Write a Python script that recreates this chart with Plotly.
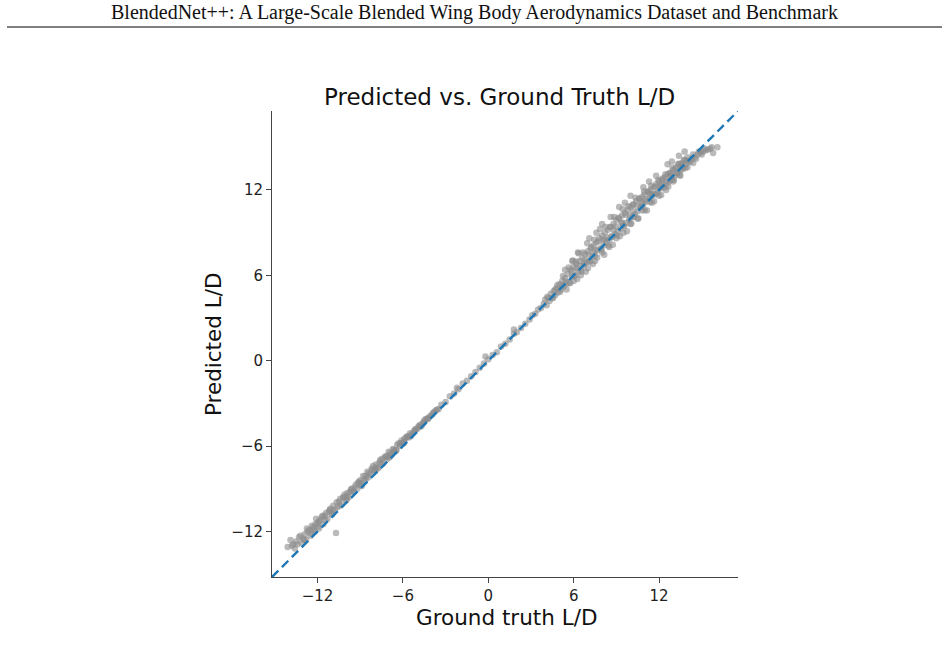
import plotly.graph_objects as go

# ---- data ----
gt_low = [-14.1,-13.9,-13.7,-13.6,-13.3,-13.1,-12.9,-12.8,-12.6,-12.5,-12.3,-12.2,-12.0,-11.9,-11.8,-11.6,-11.5,-11.3,-11.2,-11.0,
          -10.9,-10.7,-10.6,-10.5,-10.3,-10.2,-10.0,-9.9,-9.8,-9.6,-9.5,-9.3,-9.2,-9.0,-8.9,-8.8,-8.6,-8.5,-8.3,-8.2,
          -8.0,-7.9,-7.7,-7.6,-7.4,-7.3,-7.1,-7.0,-6.8,-6.7,-6.5,-6.4,-6.2,-6.1,-5.9,-5.8,-5.6,-5.5,-5.3,-5.1,
          -5.0,-4.8,-4.6,-4.5,-4.3,-4.1,-3.9,-3.7,-3.5,-3.3,
          -13.5,-12.7,-12.4,-11.7,-11.4,-11.1,-10.8,-10.4,-10.1,-9.7,-9.4,-9.1,-8.7,-8.4,-8.1,-7.8,-7.5,-7.2,-6.9,-6.6,
          -6.3,-6.0,-5.7,-5.4,-5.2,-4.9,-4.7,-4.4,-4.2,-3.8,-12.1,-11.9,-10.9,-9.9,-8.9,-7.9,-6.9,-5.9,-13.0,-12.3]
pred_low = [-13.1,-12.6,-12.9,-13.2,-12.4,-12.8,-12.2,-12.6,-11.9,-12.3,-11.7,-12.0,-11.4,-11.8,-11.2,-11.5,-10.9,-11.1,-10.6,-10.8,
            -10.2,-12.1,-10.3,-9.9,-10.1,-9.6,-9.8,-9.3,-9.6,-9.0,-9.2,-8.7,-9.0,-8.4,-8.8,-8.1,-8.3,-7.8,-8.0,-7.6,
            -7.7,-7.3,-7.5,-7.0,-7.2,-6.8,-6.9,-6.4,-6.6,-6.2,-6.3,-5.9,-6.0,-5.6,-5.7,-5.4,-5.4,-5.1,-5.1,-4.8,
            -4.8,-4.5,-4.4,-4.2,-4.1,-3.9,-3.7,-3.5,-3.4,-3.1,
            -12.7,-12.0,-11.6,-11.0,-10.7,-10.4,-10.5,-9.7,-9.4,-9.2,-8.9,-8.5,-8.4,-7.9,-7.4,-7.6,-6.9,-6.7,-6.5,-6.4,
            -5.8,-5.8,-5.3,-5.2,-4.9,-4.6,-4.6,-4.1,-4.0,-3.6,-11.1,-11.3,-10.6,-9.5,-8.6,-7.5,-6.7,-5.5,-12.5,-11.9]

gt_low2 = [-13.8,-13.4,-13.2,-12.95,-12.75,-12.45,-12.15,-11.95,-11.65,-11.45,-11.15,-10.95,-10.65,-10.45,-10.15,-9.95,-9.65,-9.45,-9.15,-8.95,
           -8.65,-8.45,-8.15,-7.95,-7.65,-7.45,-7.15,-6.95,-6.65,-6.45,-6.15,-5.95,-5.65,-5.45,-5.15,-4.85,-4.55,-4.25,-3.95,-3.6]
pred_low2 = [-13.0,-12.9,-12.3,-12.6,-11.8,-12.15,-11.5,-11.65,-10.9,-11.2,-10.5,-10.75,-9.95,-10.2,-9.6,-9.75,-9.05,-9.2,-8.6,-8.75,
             -8.1,-8.2,-7.7,-7.75,-7.15,-7.25,-6.75,-6.8,-6.25,-6.3,-5.8,-5.8,-5.35,-5.3,-4.9,-4.65,-4.35,-4.1,-3.8,-3.45]

gt_mid = [-3.0,-2.7,-2.4,-2.1,-1.8,-1.5,-1.2,-0.9,-0.6,-0.3,0.0,0.3,0.6,0.9,1.2,1.5,1.8,2.0,2.3,2.6,2.9,3.1,3.3,3.5,3.7,-2.2,1.8,-0.2]
pred_mid = [-2.9,-2.5,-2.3,-2.0,-1.6,-1.4,-1.1,-0.8,-0.5,-0.2,0.1,0.4,0.6,1.0,1.2,1.5,1.9,2.0,2.3,2.6,2.9,3.2,3.3,3.6,3.7,-1.9,2.2,0.3]

gt_high = [3.9,4.0,4.1,4.2,4.3,4.4,4.5,4.6,4.7,4.8,4.9,5.0,5.1,5.2,5.3,5.4,5.5,5.6,5.7,5.8,5.9,6.0,6.1,6.2,6.3,6.4,6.5,6.6,6.7,6.8,
           6.9,7.0,7.1,7.2,7.3,7.4,7.5,7.6,7.7,7.8,7.9,8.0,8.1,8.2,8.3,8.4,8.5,8.6,8.7,8.8,8.9,9.0,9.1,9.2,9.3,9.4,9.5,9.6,9.7,9.8,
           9.9,10.0,10.1,10.2,10.3,10.4,10.5,10.6,10.7,10.8,10.9,11.0,11.1,11.2,11.3,11.4,11.5,11.6,11.7,11.8,11.9,12.0,12.1,12.2,12.3,12.4,12.5,12.6,12.7,12.8,
           12.9,13.0,13.1,13.2,13.3,13.4,13.5,13.6,13.7,13.8,13.9,14.0,14.1,14.3,14.5,14.7,14.9,15.1,15.3,15.6,16.1,15.8,
           5.5,6.0,6.5,7.0,7.5,8.0,8.5,9.0,9.5,10.0,10.5,11.0,11.5,12.0,12.5,13.0,13.5,14.0,14.4,
           5.4,6.3,7.1,8.0,9.2,10.0,10.9,11.8,12.6,13.4,5.9,7.6,8.6,9.6,11.3,12.9,13.8,
           6.2,6.8,7.4,8.2,8.8,9.4,10.2,10.8,11.4,12.2,12.8,13.6,5.2,4.7]
pred_high = [4.0,4.3,3.9,4.4,4.2,4.7,4.4,4.9,4.6,5.1,4.8,5.4,5.0,5.6,5.2,5.8,5.4,6.1,5.5,6.4,5.9,6.6,6.0,6.8,6.3,7.0,6.4,7.2,6.7,7.5,
             6.9,7.7,7.0,7.9,7.3,8.1,7.4,8.3,7.8,8.6,7.9,8.8,8.1,9.0,8.3,9.2,8.5,9.4,8.7,9.6,8.9,9.9,9.1,10.0,9.3,10.2,9.5,10.4,9.7,10.6,
             9.9,10.8,10.1,11.0,10.3,11.2,10.5,11.4,10.8,11.5,11.0,11.7,11.2,11.9,11.4,12.0,11.6,12.2,11.7,12.4,11.9,12.6,12.1,12.7,12.3,12.9,12.4,13.1,12.6,13.2,
             12.8,13.4,13.0,13.6,13.2,13.8,13.4,13.9,13.6,14.1,13.8,14.3,14.0,14.2,14.3,14.5,14.6,14.7,14.8,14.9,15.0,14.6,
             5.0,5.6,6.0,6.5,7.0,7.6,8.0,8.6,9.0,9.6,10.0,10.6,11.1,11.6,12.0,12.6,13.0,13.6,13.9,
             6.4,7.6,8.6,9.6,10.8,11.6,12.2,13.0,13.8,14.4,7.0,9.0,10.1,11.1,12.6,14.0,14.7,
             6.5,7.1,7.6,8.5,9.2,9.7,10.5,11.1,11.7,12.4,13.0,13.7,5.3,5.0]

gt_high2 = [4.15,4.55,4.85,5.05,5.25,5.45,5.65,5.75,5.85,5.95,6.05,6.15,6.25,6.35,6.45,6.55,6.65,6.75,6.85,6.95,
            7.05,7.15,7.25,7.35,7.45,7.55,7.65,7.75,7.85,7.95,8.05,8.15,8.25,8.35,8.45,8.55,8.65,8.75,8.85,8.95,
            9.05,9.15,9.25,9.35,9.45,9.55,9.65,9.75,9.85,9.95,10.05,10.15,10.25,10.35,10.45,10.55,10.65,10.75,10.85,10.95,
            11.05,11.15,11.25,11.35,11.45,11.55,11.65,11.75,11.85,11.95,12.05,12.15,12.25,12.35,12.45,12.55,12.65,12.75,12.85,12.95,
            13.05,13.15,13.25,13.35,13.45,13.55,13.65,13.75,13.85,13.95,14.2,14.4,14.6,14.8,15.0,15.2,15.45,15.7]
pred_high2 = [4.50,4.40,5.30,4.85,5.95,5.55,6.55,5.45,6.25,7.05,5.95,6.95,5.75,7.55,6.70,6.25,7.60,6.80,6.25,8.25,
              7.45,6.95,8.00,6.80,8.50,7.75,7.25,8.40,9.25,7.80,8.50,7.45,9.40,8.65,8.10,9.40,8.75,8.15,10.10,9.45,
              8.80,10.05,8.75,9.70,10.65,9.45,10.25,9.10,10.85,10.20,9.65,10.95,10.10,11.45,10.90,10.00,11.35,10.80,10.55,11.90,
              11.35,10.55,11.85,11.15,12.30,11.70,11.20,12.25,11.75,12.70,12.25,11.65,12.80,12.15,13.10,12.65,12.25,13.20,12.70,13.55,
              12.70,13.45,13.15,13.85,13.05,13.75,13.45,14.10,13.55,14.05,14.0,14.5,14.2,14.7,14.5,14.9,14.85,15.0]

ground_truth = gt_low + gt_low2 + gt_mid + gt_high + gt_high2
predicted = pred_low + pred_low2 + pred_mid + pred_high + pred_high2

axis_lims = [-15.2, 17.55]
tick_vals = [-12, -6, 0, 6, 12]
tick_text = ["\u221212", "\u22126", "0", "6", "12"]

W, H = 948, 654
x0, x1 = 272, 738
y0, y1 = 111, 577

fig = go.Figure()
fig.add_trace(go.Scatter(
    x=ground_truth, y=predicted, mode="markers",
    marker=dict(color="rgba(140,140,140,0.6)", size=6.5, line=dict(width=0)),
    hoverinfo="skip", showlegend=False))
fig.add_trace(go.Scatter(
    x=axis_lims, y=axis_lims, mode="lines",
    line=dict(color="#1f77b4", width=2.4, dash="9px,5px"),
    hoverinfo="skip", showlegend=False))

axis_common = dict(
    range=axis_lims, showgrid=False, zeroline=False,
    showline=True, linecolor="#444444", linewidth=1,
    ticks="outside", ticklen=5, tickwidth=1, tickcolor="#444444",
    tickvals=tick_vals, ticktext=tick_text,
    tickfont=dict(family="DejaVu Sans", size=15, color="#222222"),
    automargin=False,
)

fig.update_layout(
    width=W, height=H,
    margin=dict(l=0, r=0, t=0, b=0),
    paper_bgcolor="white", plot_bgcolor="white",
    xaxis=dict(domain=[x0 / W, x1 / W], **axis_common),
    yaxis=dict(domain=[1 - y1 / H, 1 - y0 / H], **axis_common),
    annotations=[
        dict(text="BlendedNet++: A Large-Scale Blended Wing Body Aerodynamics Dataset and Benchmark",
             xref="paper", yref="paper", x=474 / W, y=1 - 13 / H, xanchor="center", yanchor="middle",
             showarrow=False, font=dict(family="Liberation Serif", size=20, color="#111111")),
        dict(text="Predicted vs. Ground Truth L/D",
             xref="paper", yref="paper", x=499.5 / W, y=1 - 97 / H, xanchor="center", yanchor="middle",
             showarrow=False, font=dict(family="DejaVu Sans", size=23, color="#111111")),
        dict(text="Ground truth L/D",
             xref="paper", yref="paper", x=506 / W, y=1 - 617 / H, xanchor="center", yanchor="middle",
             showarrow=False, font=dict(family="DejaVu Sans", size=21.5, color="#111111")),
        dict(text="Predicted L/D", textangle=-90,
             xref="paper", yref="paper", x=213 / W, y=1 - 344 / H, xanchor="center", yanchor="middle",
             showarrow=False, font=dict(family="DejaVu Sans", size=21.5, color="#111111")),
    ],
    shapes=[
        dict(type="line", xref="paper", yref="paper", x0=7 / W, x1=942 / W, y0=1 - 27 / H, y1=1 - 27 / H,
             line=dict(color="#000000", width=1)),
    ],
)

fig.write_html("out.html")
